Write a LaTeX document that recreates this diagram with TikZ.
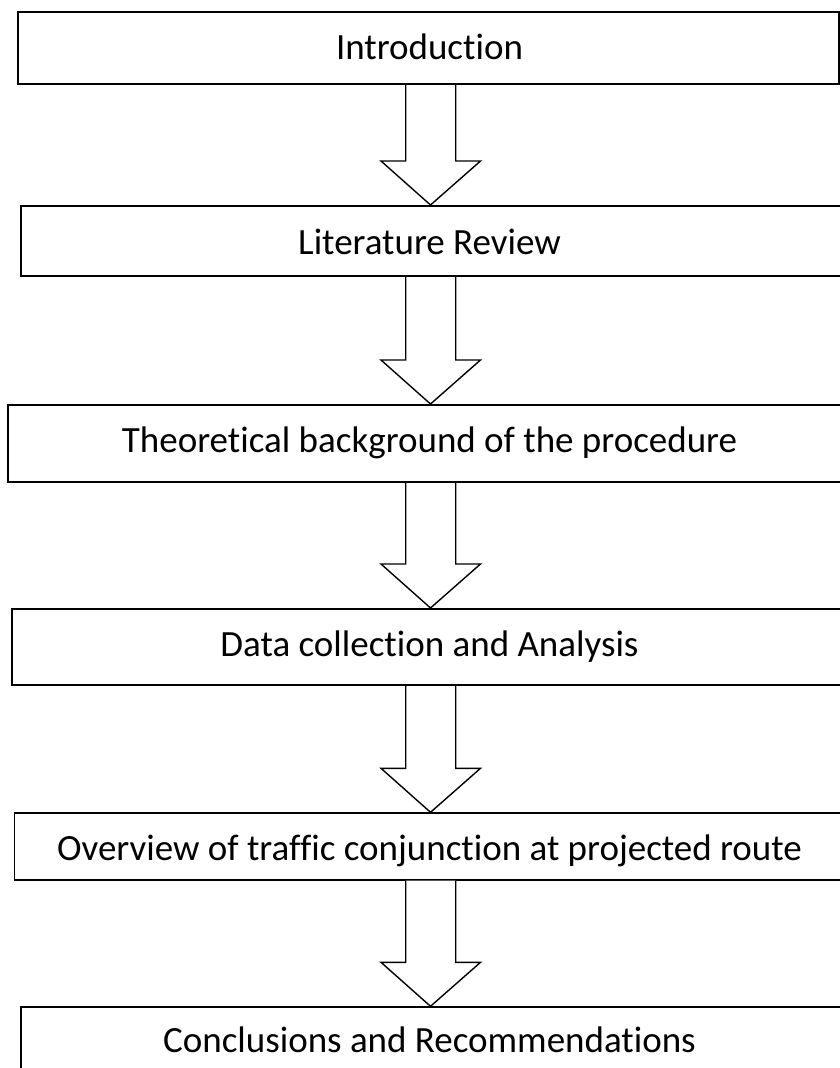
\documentclass[tikz,border=0pt]{standalone}
\usepackage{fontspec}
\setmainfont{Carlito}[Ligatures={NoCommon}]
\usetikzlibrary{calc}
\tikzset{
  stepbox/.style={draw=black, line width=2pt, fill=white, inner sep=0pt, rectangle},
  thinbox/.style={stepbox, line width=1.4pt},
  boxtext/.style={anchor=base, inner sep=0pt, font=\fontsize{37}{44}\selectfont},
  blockarrow/.style={draw=black, line width=1.4pt, line join=miter, fill=white}
}
\newcommand\blkarrow[2]{%
  \draw[blockarrow] let \p1=(#1.south), \p2=(#2.north) in
    (405.7pt,\y1) -- (405.7pt,{\y2+44pt}) -- (381pt,{\y2+44pt}) -- (430.5pt,\y2)
    -- (480.5pt,{\y2+44pt}) -- (455.7pt,{\y2+44pt}) -- (455.7pt,\y1);}
\begin{document}
\begin{tikzpicture}[x=1pt,y=-1pt]
  \useasboundingbox (0,0) rectangle (840,1068);
  \clip (0,0) rectangle (840,1068);
  \fill[white] (0,0) rectangle (840,1068);
  % boxes
  \node[stepbox, minimum width=821.3pt, minimum height=72pt] (b1) at (428.35,48) {};
  \node[stepbox, minimum width=824pt, minimum height=70pt] (b2) at (433,241) {};
  \node[stepbox, minimum width=837pt, minimum height=77pt] (b3) at (426.5,443.5) {};
  \node[stepbox, minimum width=833pt, minimum height=76pt] (b4) at (428.5,647) {};
  \node[thinbox, minimum width=830.5pt, minimum height=67pt] (b5) at (429.75,846.5) {};
  \node[thinbox, minimum width=824pt, minimum height=73pt] (b6) at (433,1043.5) {};
  % texts
  \node[boxtext] (t1) at (429.5,59) {Introduction};
  \node[boxtext] (t2) at (429.5,254) {Literature Review};
  \node[boxtext] (t3) at (429.5,452) {Theoretical background of the procedure};
  \node[boxtext] (t4) at (429.5,656) {Data collection and Analysis};
  \node[boxtext] (t5) at (429.5,860) {Overview of traffic conjunction at projected route};
  \node[boxtext] (t6) at (429.5,1052) {Conclusions and Recommendations};
  % block arrows
  \blkarrow{b1}{b2}
  \blkarrow{b2}{b3}
  \blkarrow{b3}{b4}
  \blkarrow{b4}{b5}
  \blkarrow{b5}{b6}
\end{tikzpicture}
\end{document}
